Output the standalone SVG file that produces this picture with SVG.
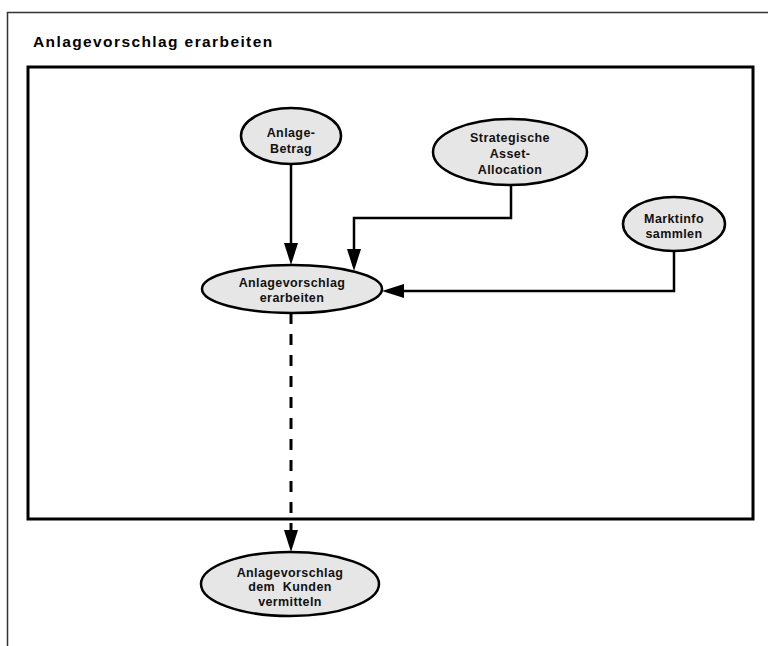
<svg xmlns="http://www.w3.org/2000/svg" width="768" height="646" viewBox="0 0 768 646">
  <style>
    .frame { fill: none; stroke: #333; stroke-width: 1.5; }
    .box { fill: none; stroke: #000; stroke-width: 3; }
    .title { font-family: "Liberation Sans", Arial, sans-serif; font-weight: bold; font-size: 15.5px; letter-spacing: 1.4px; fill: #000; }
    .node ellipse { fill: #e6e6e6; stroke: #000; stroke-width: 2.5; }
    .node text { font-family: "Liberation Sans", Arial, sans-serif; font-weight: bold; font-size: 12.5px; letter-spacing: 0.4px; fill: #111; text-anchor: middle; white-space: pre; }
    .edge { fill: none; stroke: #000; stroke-width: 2.5; }
    .dashed { stroke-dasharray: 11 10; stroke-width: 3; }
  </style>
  <defs>
    <marker id="arrow" markerUnits="userSpaceOnUse" markerWidth="24" markerHeight="16" viewBox="0 -8 24 16" refX="0" refY="0" orient="auto">
      <path d="M0,-7 L22,0 L0,7 Z" fill="#000"/>
    </marker>
  </defs>

  <!-- page frame -->
  <path class="frame" d="M7.5,646 V12.5 H768"/>
  <text class="title" x="33" y="47">Anlagevorschlag erarbeiten</text>

  <!-- process box -->
  <rect class="box" x="28" y="67" width="725" height="452"/>

  <!-- connectors -->
  <g id="connectors">
    <path class="edge" d="M291,165 V243" marker-end="url(#arrow)"/>
    <path class="edge" d="M511,185 V218 H354 V249" marker-end="url(#arrow)"/>
    <path class="edge" d="M674,252 V291 H404" marker-end="url(#arrow)"/>
    <path class="edge dashed" d="M291,313 V530" marker-end="url(#arrow)"/>
  </g>

  <g id="anlage-betrag" class="node">
    <ellipse cx="291" cy="136" rx="50" ry="28"/>
    <text x="291" y="137">Anlage-</text>
    <text x="291" y="153">Betrag</text>
  </g>

  <g id="strategische-asset-allocation" class="node">
    <ellipse cx="510" cy="152" rx="77" ry="33"/>
    <text x="510" y="142">Strategische</text>
    <text x="510" y="158">Asset-</text>
    <text x="510" y="174">Allocation</text>
  </g>

  <g id="marktinfo-sammeln" class="node">
    <ellipse cx="674" cy="224" rx="51" ry="27"/>
    <text x="674" y="223">Marktinfo</text>
    <text x="674" y="238">sammlen</text>
  </g>

  <g id="anlagevorschlag-erarbeiten" class="node">
    <ellipse cx="292" cy="289" rx="90" ry="24"/>
    <text x="292" y="287">Anlagevorschlag</text>
    <text x="292" y="302">erarbeiten</text>
  </g>

  <g id="anlagevorschlag-vermitteln" class="node">
    <ellipse cx="290" cy="584" rx="89" ry="32"/>
    <text x="290" y="577">Anlagevorschlag</text>
    <text x="290" y="591">dem  Kunden</text>
    <text x="290" y="606">vermitteln</text>
  </g>
</svg>
